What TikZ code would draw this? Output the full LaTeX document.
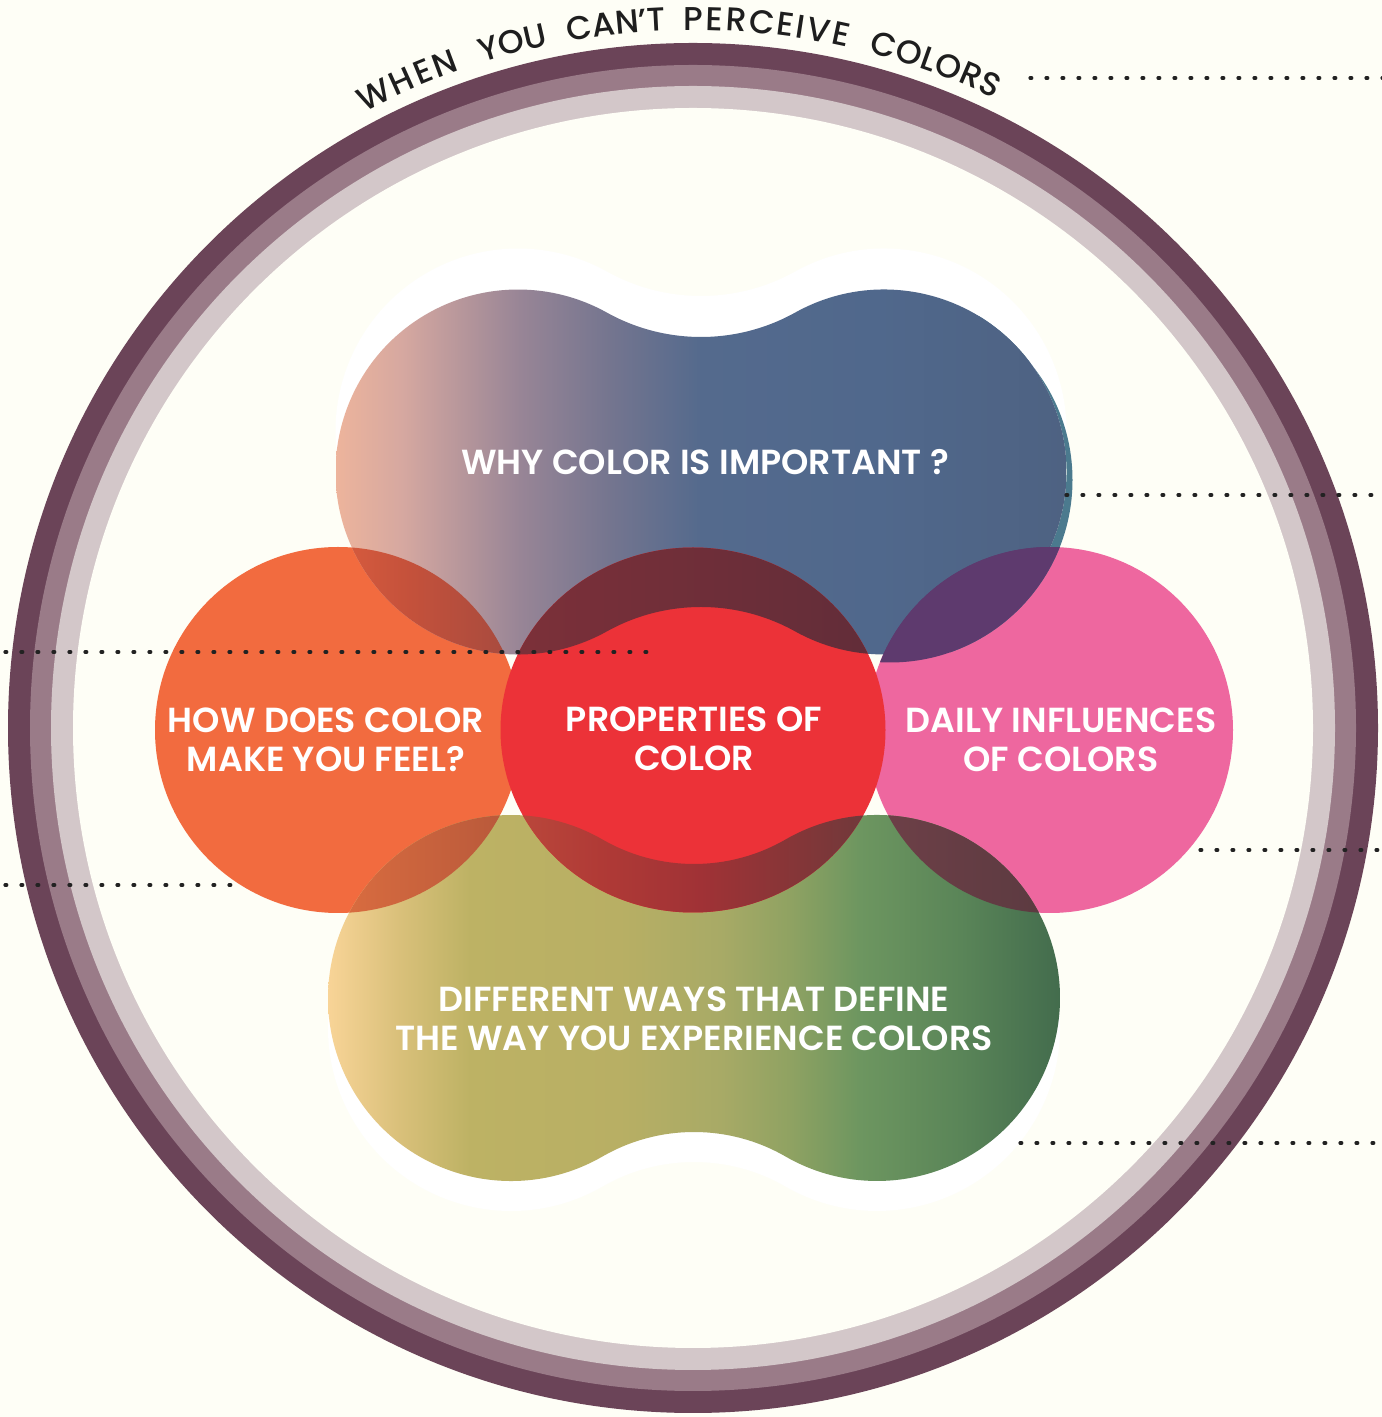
\documentclass[tikz,border=0pt]{standalone}
\usepackage{fontspec}
\usetikzlibrary{decorations.text}
\newfontfamily\titlefont{Poppins Medium}
\newfontfamily\labfont{Poppins SemiBold}
\definecolor{bg}{HTML}{FEFEF6}
\definecolor{ringA}{HTML}{6B4458}
\definecolor{ringB}{HTML}{9A7B88}
\definecolor{ringC}{HTML}{D3C7C9}
\definecolor{orangeC}{HTML}{F26B3F}
\definecolor{pinkC}{HTML}{EE679F}
\definecolor{redC}{HTML}{EC3238}
\definecolor{tealC}{HTML}{4B7A8E}
\definecolor{titlec}{HTML}{1E1E1E}
\definecolor{dotc}{HTML}{222222}
\definecolor{tA}{HTML}{EDB49C}
\definecolor{tB}{HTML}{D6A8A0}
\definecolor{tC}{HTML}{988596}
\definecolor{tD}{HTML}{74758F}
\definecolor{tE}{HTML}{546A8D}
\definecolor{tF}{HTML}{50688C}
\definecolor{tG}{HTML}{4E6282}
\definecolor{bA}{HTML}{F8D497}
\definecolor{bB}{HTML}{D9C07A}
\definecolor{bC}{HTML}{BDB264}
\definecolor{bD}{HTML}{B8AF64}
\definecolor{bE}{HTML}{A8AA66}
\definecolor{bF}{HTML}{8FA262}
\definecolor{bG}{HTML}{6D9660}
\definecolor{bH}{HTML}{5A8558}
\definecolor{bI}{HTML}{436C4D}
% overlap colours
\definecolor{toA}{HTML}{D85C3E}
\definecolor{toB}{HTML}{C4513B}
\definecolor{toC}{HTML}{A44A3F}
\definecolor{boA}{HTML}{DC6E40}
\definecolor{boB}{HTML}{B5573A}
\definecolor{topPink}{HTML}{5E3A6E}
\definecolor{bpA}{HTML}{6F4048}
\definecolor{bpB}{HTML}{5A3A40}
\definecolor{trA}{HTML}{7D3039}
\definecolor{trB}{HTML}{612D39}
\definecolor{brA}{HTML}{BC4A3C}
\definecolor{brB}{HTML}{B03A36}
\definecolor{brC}{HTML}{A03236}
\definecolor{brD}{HTML}{8A3537}
\definecolor{brE}{HTML}{6A3A3C}
\pgfdeclarehorizontalshading{topgrad}{100bp}{color(0bp)=(tA); color(25bp)=(tA); color(29.5bp)=(tB); color(37.6bp)=(tC); color(43.8bp)=(tD); color(50bp)=(tE); color(62bp)=(tF); color(75bp)=(tG); color(100bp)=(tG)}
\pgfdeclarehorizontalshading{botgrad}{100bp}{color(0bp)=(bA); color(25bp)=(bA); color(29.9bp)=(bB); color(34.7bp)=(bC); color(44.9bp)=(bD); color(51.8bp)=(bE); color(56.6bp)=(bF); color(61.3bp)=(bG); color(68.2bp)=(bH); color(75bp)=(bI); color(100bp)=(bI)}
\pgfdeclarehorizontalshading{toggrad}{100bp}{color(0bp)=(toA); color(25bp)=(toA); color(45bp)=(toB); color(75bp)=(toC); color(100bp)=(toC)}
\pgfdeclarehorizontalshading{brgrad}{100bp}{color(0bp)=(brA); color(25bp)=(brA); color(38bp)=(brB); color(51bp)=(brC); color(61bp)=(brD); color(75bp)=(brE); color(100bp)=(brE)}
% blob outline: cx cy s R rho alpha
\newcommand\blobpath[6]{([shift={(#1+#3,#2)}]{180-#6}:#4pt) arc[start angle={180-#6}, end angle={#6-180}, radius=#4pt] arc[start angle=#6, end angle={180-#6}, radius=#5pt] arc[start angle={-#6}, end angle={#6-360}, radius=#4pt] arc[start angle={180+#6}, end angle={360-#6}, radius=#5pt] -- cycle}
\newcommand\topblob{\blobpath{701}{945}{183}{182.5}{193.77}{60.9}}
\newcommand\botblob{\blobpath{694}{419}{183}{183}{183.22}{60.02}}
\newcommand\orangecirc{(338,687) circle[radius=183pt]}
\newcommand\pinkcirc{(1050,687) circle[radius=183pt]}
\newcommand\redell{(693,687) ellipse[x radius=192.5pt, y radius=182.5pt]}
\newcommand\tealcirc{(890,937) circle[radius=182.5pt]}
\tikzset{
  lab/.style={text=white, font=\labfont\fontsize{34.8}{39}\selectfont, align=center, inner sep=0pt},
  dotline/.style={draw=dotc, line width=3.2pt, line cap=round, dash pattern=on 1.8pt off 14.2pt},
  titleword/.style={decorate, decoration={text along path, text align={fit to path}, text={|\titlefont\fontsize{33}{33}\selectfont\color{titlec}|#1}}}
}
\begin{document}
\begin{tikzpicture}[x=1pt,y=1pt]
\useasboundingbox (0,0) rectangle (1382,1417);
\fill[bg] (0,0) rectangle (1382,1417);
\coordinate (c) at (693,689);
% rings
\fill[ringA] (c) circle[radius=685pt];
\fill[ringB] (c) circle[radius=663pt];
\fill[ringC] (c) circle[radius=642pt];
\fill[bg] (c) circle[radius=620pt];
% white halos
\fill[white] \blobpath{701}{986}{183}{182.5}{193.77}{60.9};
\fill[white] \blobpath{694}{389}{183}{183}{183.22}{60.02};
% circles
\fill[orangeC] \orangecirc;
\fill[pinkC] \pinkcirc;
% teal rim of the top blob
\begin{scope}
  \clip (950,700) rectangle (1100,1100);
  \fill[tealC, even odd rule] \tealcirc \topblob;
\end{scope}
% top blob
\begin{scope}
  \clip \topblob;
  \shade[shading=topgrad] (336,700) rectangle (1066,1200);
\end{scope}
% bottom blob
\begin{scope}
  \clip \botblob;
  \shade[shading=botgrad] (328,200) rectangle (1060,650);
\end{scope}
% overlaps
\begin{scope}
  \clip \orangecirc;
  \clip \topblob;
  \shade[shading=toggrad] (336,700) rectangle (521,1000);
\end{scope}
\begin{scope}
  \clip \orangecirc;
  \clip \botblob;
  \shade[left color=boA, right color=boB] (328,450) rectangle (521,650);
\end{scope}
\begin{scope}
  \clip \pinkcirc;
  \fill[topPink] \topblob;
  \fill[topPink] \tealcirc;
\end{scope}
\begin{scope}
  \clip \pinkcirc;
  \clip \botblob;
  \shade[left color=bpA, right color=bpB] (867,450) rectangle (1060,650);
\end{scope}
% centre ellipse and its overlaps
\fill[redC] \redell;
\begin{scope}
  \clip \redell;
  \clip \topblob;
  \shade[left color=trA, right color=trB] (500,700) rectangle (886,1000);
\end{scope}
\begin{scope}
  \clip \redell;
  \clip \botblob;
  \shade[shading=brgrad] (500,450) rectangle (886,650);
\end{scope}
% dotted lines
\coordinate (d1a) at (1030,1339); \coordinate (d1b) at (1382,1339);
\coordinate (d2a) at (1066,922);  \coordinate (d2b) at (1382,922);
\coordinate (d3a) at (5,765);     \coordinate (d3b) at (652,765);
\coordinate (d4a) at (5,532);     \coordinate (d4b) at (232,532);
\coordinate (d5a) at (1200,567);  \coordinate (d5b) at (1382,567);
\coordinate (d6a) at (1020,274);  \coordinate (d6b) at (1382,274);
\draw[dotline] (d1a) -- (d1b);
\draw[dotline] (d2a) -- (d2b);
\draw[dotline] (d3a) -- (d3b);
\draw[dotline] (d4a) -- (d4b);
\draw[dotline] (d5a) -- (d5b);
\draw[dotline] (d6a) -- (d6b);
% labels
\node[lab] (why) at (705,955) {WHY COLOR IS IMPORTANT ?};
\node[lab] (feel) at (326,677) {HOW DOES COLOR\\MAKE YOU FEEL?};
\node[lab] (props) at (694,678.5) {PROPERTIES OF\\COLOR};
\node[lab] (daily) at (1061,677.5) {DAILY INFLUENCES\\OF COLORS};
\node[lab] (ways) at (694,398.5) {DIFFERENT WAYS THAT DEFINE\\THE WAY YOU EXPERIENCE COLORS};
% title along the ring
\path[shift={(c)}, titleword=WHEN] (118.1:698pt) arc[start angle=118.1, end angle=109.5, radius=698pt];
\path[shift={(c)}, titleword=YOU] (107.55:698pt) arc[start angle=107.55, end angle=102.05, radius=698pt];
\path[shift={(c)}, titleword=CAN’T] (100.3:698pt) arc[start angle=100.3, end angle=92.3, radius=698pt];
\path[shift={(c)}, titleword=PERCEIVE] (90.75:698pt) arc[start angle=90.75, end angle=77.25, radius=698pt];
\path[shift={(c)}, titleword=COLORS] (75.4:698pt) arc[start angle=75.4, end angle=64.4, radius=698pt];
\end{tikzpicture}
\end{document}
